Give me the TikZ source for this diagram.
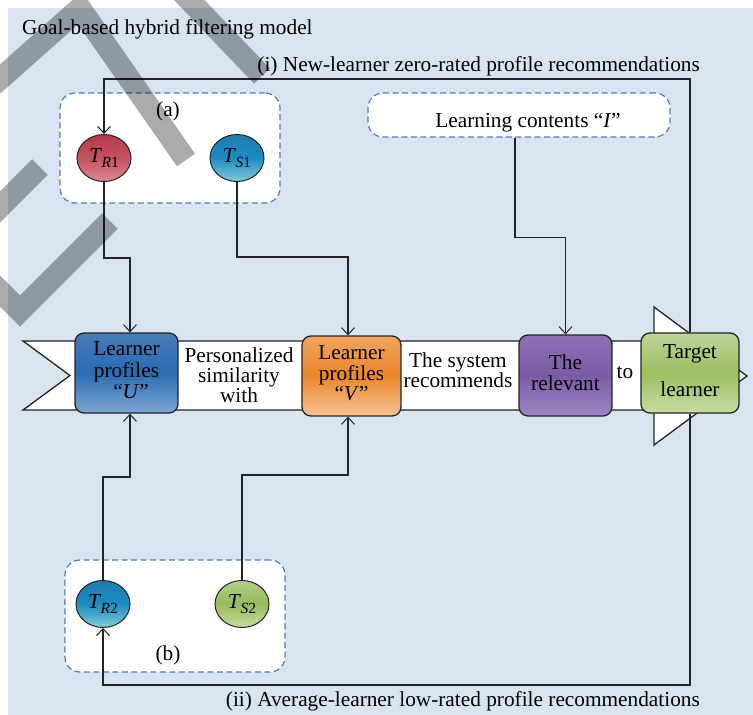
\documentclass[tikz,border=0pt]{standalone}
\usepackage{fontspec}
\setmainfont{Liberation Serif}
\usetikzlibrary{shapes.geometric,arrows.meta}

\definecolor{panel}{RGB}{218,227,240}
\definecolor{dashblue}{RGB}{75,125,190}
\definecolor{edge}{RGB}{35,35,35}
% gradient stops (top, middle, bottom)
\definecolor{uT}{RGB}{72,122,186}\definecolor{uM}{RGB}{42,108,178}\definecolor{uB}{RGB}{122,166,212}
\definecolor{vT}{RGB}{242,164,96}\definecolor{vM}{RGB}{234,134,44}\definecolor{vB}{RGB}{246,194,148}
\definecolor{rT}{RGB}{142,112,180}\definecolor{rM}{RGB}{122,92,166}\definecolor{rB}{RGB}{158,132,196}
\definecolor{gT}{RGB}{192,212,152}\definecolor{gM}{RGB}{156,190,96}\definecolor{gB}{RGB}{200,220,162}
\definecolor{redT}{RGB}{178,58,74}\definecolor{redM}{RGB}{196,82,96}\definecolor{redB}{RGB}{218,136,146}
\definecolor{bluT}{RGB}{32,124,176}\definecolor{bluM}{RGB}{28,138,192}\definecolor{bluB}{RGB}{132,204,218}
\definecolor{grnT}{RGB}{180,208,136}\definecolor{grnM}{RGB}{150,186,92}\definecolor{grnB}{RGB}{200,220,160}

% label sizes
\newcommand\dfont{\rmfamily\fontsize{21.3}{21}\selectfont}
% T with an italic letter and a digit as subscript
\newcommand\Tlab[2]{\textit{T}\kern-0.5pt\raisebox{-4.5pt}{\fontsize{15.5}{15}\selectfont\textit{#1}#2}}
% centred lines of text, #1 = line spacing factor (times 21pt)
\newcommand\linesat[2]{{\renewcommand\arraystretch{#1}\begin{tabular}{@{}c@{}}#2\end{tabular}}}

% vertical three-stop gradient painted in thin strips inside a clip path
% #1 clip path, #2 x1, #3 y1, #4 x2, #5 y2, #6 top, #7 middle, #8 bottom
\newcommand\gradfill[8]{%
  \begin{scope}
    \clip #1;
    \foreach \k in {0,...,47}{%
      \pgfmathsetmacro\ya{#3+(#5-#3)*\k/48}%
      \pgfmathsetmacro\yb{#3+(#5-#3)*(\k+1)/48+0.6}%
      \pgfmathsetmacro\s{(\k+0.5)/24}%
      \ifdim\s pt<1pt
        \pgfmathsetmacro\p{100*(1-\s)}%
        \fill[color={#6!\p!#7}] (#2,\ya) rectangle (#4,\yb);
      \else
        \pgfmathsetmacro\p{100*(2-\s)}%
        \fill[color={#7!\p!#8}] (#2,\ya) rectangle (#4,\yb);
      \fi
    }
  \end{scope}}

\tikzset{
  conn/.style={line width=1.1pt, draw=edge},
  arr/.style={conn, -{Straight Barb[length=7pt,width=13pt,line width=1pt]}},
  band/.style={fill=white, draw=edge, line width=1.3pt, line join=miter},
  pbox/.style={draw=edge, line width=1.3pt, rounded corners=9pt,
    inner sep=0pt, minimum height=80pt, font=\dfont},
  tnode/.style={ellipse, draw=edge, line width=1pt, minimum width=54pt,
    minimum height=47pt, inner sep=0pt, font=\dfont},
  group/.style={draw=dashblue, fill=white, dash pattern=on 6pt off 3.5pt,
    line width=1.2pt, rounded corners=15pt, inner sep=0pt},
  lbl/.style={font=\dfont, inner sep=0pt},
  wm/.style={line width=22pt, draw=black, opacity=0.33, line cap=butt, line join=miter}
}

\begin{document}
\begin{tikzpicture}[x=1pt,y=-1pt]
\useasboundingbox (0,0) rectangle (753,715);
\fill[white] (0,0) rectangle (753,715);
\fill[panel] (8,8) rectangle (753,715);

% title and the two recommendation paths
\node[lbl, anchor=base west] (title) at (22,34) {Goal-based hybrid filtering model};
\node[lbl, anchor=base east] (newlbl) at (700,71) {(i) New-learner zero-rated profile recommendations};
\node[lbl, anchor=base east] (avglbl) at (700,706) {(ii) Average-learner low-rated profile recommendations};

% dashed groups
\node[group, minimum width=220pt, minimum height=110pt] (ga) at (170,148) {};
\node[group, minimum width=220pt, minimum height=112pt] (gb) at (175,616) {};
\node[group, minimum width=302pt, minimum height=44pt] (lc) at (519,115) {};
\node[lbl, anchor=base] (lct) at (528,127) {Learning contents “\textit{I}”};
\node[lbl, anchor=base] (alab) at (168,116) {(a)};
\node[lbl, anchor=base] (blab) at (168,660) {(b)};

% rating nodes
\gradfill{(104,158) ellipse [x radius=27, y radius=23.5]}{77}{134.5}{131}{181.5}{redT}{redM}{redB}
\gradfill{(237,158) ellipse [x radius=27, y radius=23.5]}{210}{134.5}{264}{181.5}{bluT}{bluM}{bluB}
\gradfill{(103,604) ellipse [x radius=27, y radius=23.5]}{76}{580.5}{130}{627.5}{bluT}{bluM}{bluB}
\gradfill{(242,604) ellipse [x radius=27, y radius=23.5]}{215}{580.5}{269}{627.5}{grnT}{grnM}{grnB}
\node[tnode] (tr1) at (104,158) {\Tlab{R}{1}};
\node[tnode] (ts1) at (237,158) {\Tlab{S}{1}};
\node[tnode] (tr2) at (103,604) {\Tlab{R}{2}};
\node[tnode] (ts2) at (242,604) {\Tlab{S}{2}};

% the main ribbon arrow
\draw[band] (23,341) -- (654,341) -- (654,307) -- (747,376) -- (654,445)
  -- (654,410) -- (23,410) -- (70,375.5) -- cycle;

% stages on the ribbon
\gradfill{[rounded corners=9pt] (75,333) rectangle (178,413)}{75}{333}{178}{413}{uT}{uM}{uB}
\gradfill{[rounded corners=9pt] (302,336) rectangle (401,416)}{302}{336}{401}{416}{vT}{vM}{vB}
\gradfill{[rounded corners=9pt] (519,335) rectangle (612,416)}{519}{335}{612}{416}{rT}{rM}{rB}
\gradfill{[rounded corners=9pt] (641,333) rectangle (739,413)}{641}{333}{739}{413}{gT}{gM}{gB}

\node[pbox, minimum width=103pt] (u) at (126.5,373)
  {\raisebox{-2pt}{\linesat{1.024}{Learner\\profiles\\\hspace*{9pt}“\textit{U}”}}};
\node[lbl] (psw) at (239,378) {\linesat{0.88}{Personalized\\similarity\\with}};
\node[pbox, minimum width=99pt] (v) at (351.5,376)
  {\raisebox{-1pt}{\linesat{0.952}{Learner\\profiles\\“\textit{V}”}}};
\node[lbl] (sys) at (458,373) {\linesat{0.952}{The system\\recommends}};
\node[pbox, minimum width=93pt, minimum height=81pt] (rel) at (565.5,375.5)
  {\raisebox{-3pt}{\linesat{0.905}{The\\relevant}}};
\node[lbl, anchor=base] (to) at (625,378) {to};
\node[pbox, minimum width=98pt] (tgt) at (690,373)
  {\raisebox{-2pt}{\linesat{1}{Target\\[17pt]learner}}};

% connectors
\coordinate (topline) at (400,79);
\coordinate (botline) at (400,685);
\draw[arr] (tgt.north) |- (topline) -| (tr1.north);
\draw[arr] (tgt.south) |- (botline) -| (tr2.south);
\draw[arr] (tr1.south) -- ++(0,76) -| ([xshift=3.5pt]u.north);
\draw[arr] (ts1.south) -- ++(0,75) -| ([xshift=-3.5pt]v.north);
\draw[arr] ([xshift=-4pt]lc.south) -- ++(0,100) -| (rel.north);
\draw[arr] (tr2.north) -- ++(0,-103) -| ([xshift=3.5pt]u.south);
\draw[arr] (ts2.north) -- ++(0,-105) -| ([xshift=-3.5pt]v.south);

% grey stamp bands
\draw[wm] (-10,88) -- (80,8) -- (186,160);
\draw[wm] (170,-20) -- (262,76);
\draw[wm] (40,167) -- (-15,222);
\draw[wm] (110,221) -- (20,311) -- (-20,271);
\end{tikzpicture}
\end{document}
